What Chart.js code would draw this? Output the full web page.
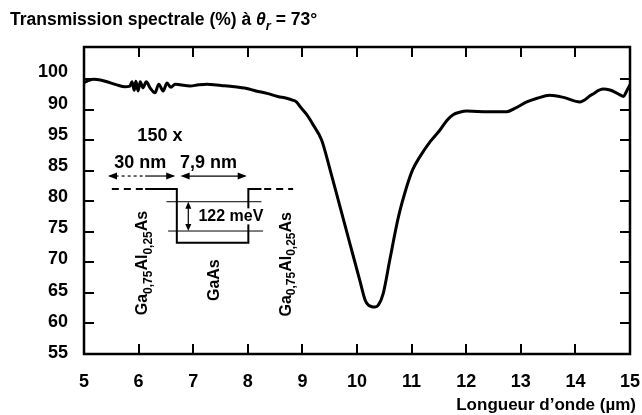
<!DOCTYPE html>
<html>
<head>
<meta charset="utf-8">
<script src="https://cdn.jsdelivr.net/npm/chart.js@4.4.1/dist/chart.umd.min.js"></script>
<style>
  html, body { margin: 0; padding: 0; background: #fff; }
  canvas { display: block; }
</style>
</head>
<body>
<canvas id="chart" width="642" height="415"></canvas>
<script>
// Spectral transmission of the multi-quantum-well sample, wavelength in µm
const wavelength = [
  5.00, 5.08, 5.17, 5.30, 5.42, 5.60, 5.75, 5.84,
  5.88, 5.92, 5.95, 5.99, 6.03, 6.08, 6.14, 6.21, 6.30, 6.37, 6.45, 6.52, 6.59, 6.67,
  6.76, 6.94, 7.10, 7.25, 7.51, 7.75, 7.98, 8.15, 8.35, 8.55, 8.71, 8.82, 8.89,
  8.96, 9.08, 9.20, 9.35, 9.51, 9.69, 9.87, 10.05, 10.15, 10.21, 10.27, 10.33, 10.39,
  10.48, 10.60, 10.76, 10.91, 11.02, 11.15, 11.34, 11.52, 11.65, 11.76, 11.88, 12.01,
  12.40, 12.74, 12.90, 13.11, 13.30, 13.53, 13.80, 14.08, 14.30, 14.51, 14.63, 14.75,
  14.88, 14.95, 15.00
];
const transmission = [
  99.5, 99.8, 100.0, 99.9, 99.6, 99.1, 98.8, 98.9,
  99.6, 98.2, 99.7, 98.1, 99.6, 98.6, 99.6, 98.6, 97.8, 99.2, 98.1, 99.4, 98.7, 99.2,
  99.1, 98.9, 99.1, 99.2, 99.0, 98.8, 98.5, 98.1, 97.7, 97.2, 96.9, 96.6, 96.3,
  95.5, 94.2, 92.5, 90.1, 85.1, 79.1, 73.1, 67.1, 63.8, 63.0, 62.75, 62.7, 63.0,
  64.9, 70.4, 77.5, 82.4, 85.2, 87.3, 89.8, 91.7, 93.3, 94.2, 94.6, 94.8,
  94.7, 94.7, 95.3, 96.3, 96.9, 97.4, 97.0, 96.3, 97.5, 98.4, 98.25, 97.8,
  97.2, 98.3, 99.1
];

// Axis ticks and the labels printed next to them
const xTickValues = [5, 6, 7, 8, 9, 10, 11, 12, 13, 14, 15];
const yTickValues = [55, 60, 65, 70, 75, 80, 85, 90, 95, 100];
const yTickLabels = ['55', '60', '65', '70', '75', '80', '85', '95', '90', '100'];

const FONT = "'Liberation Sans', Arial, Helvetica, sans-serif";

// Draws a run of text pieces (normal / italic / subscript) starting at x
function richText(ctx, pieces, x, y, size, weight) {
  let cx = x;
  for (const p of pieces) {
    const s = p.sub ? Math.round(size * 0.72) : size;
    ctx.font = `${p.italic ? 'italic ' : ''}${weight} ${s}px ${FONT}`;
    ctx.fillText(p.t, cx, y + (p.sub ? size * 0.28 : 0));
    cx += ctx.measureText(p.t).width;
  }
  return cx - x;
}
function richWidth(ctx, pieces, size, weight) {
  let w = 0;
  for (const p of pieces) {
    const s = p.sub ? Math.round(size * 0.72) : size;
    ctx.font = `${p.italic ? 'italic ' : ''}${weight} ${s}px ${FONT}`;
    w += ctx.measureText(p.t).width;
  }
  return w;
}

function arrowHead(ctx, x, y, dir, len, half) {
  ctx.beginPath();
  if (dir === 'l') { ctx.moveTo(x, y); ctx.lineTo(x + len, y - half); ctx.lineTo(x + len, y + half); }
  if (dir === 'r') { ctx.moveTo(x, y); ctx.lineTo(x - len, y - half); ctx.lineTo(x - len, y + half); }
  if (dir === 'u') { ctx.moveTo(x, y); ctx.lineTo(x - half, y + len); ctx.lineTo(x + half, y + len); }
  if (dir === 'd') { ctx.moveTo(x, y); ctx.lineTo(x - half, y - len); ctx.lineTo(x + half, y - len); }
  ctx.closePath();
  ctx.fill();
}

// Frame with inward ticks on all four sides, y labels and the titles
const framePlugin = {
  id: 'frame',
  afterDraw(chart) {
    const { ctx, chartArea: a, scales: { x, y } } = chart;
    ctx.save();
    ctx.strokeStyle = '#000';
    ctx.fillStyle = '#000';
    ctx.lineWidth = 2;
    const len = 10;
    ctx.beginPath();
    for (const v of xTickValues) {
      const px = Math.round(x.getPixelForValue(v));
      if (px <= a.left + 1 || px >= a.right - 1) continue;
      ctx.moveTo(px, a.bottom); ctx.lineTo(px, a.bottom - len);
      ctx.moveTo(px, a.top); ctx.lineTo(px, a.top + len);
    }
    for (const v of yTickValues) {
      const py = Math.round(y.getPixelForValue(v));
      if (py >= a.bottom - 1) continue;
      ctx.moveTo(a.left, py); ctx.lineTo(a.left + len, py);
      ctx.moveTo(a.right, py); ctx.lineTo(a.right - len, py);
    }
    ctx.stroke();
    ctx.lineWidth = 2.5;
    ctx.strokeRect(a.left, a.top, a.right - a.left, a.bottom - a.top);

    // y tick labels, set slightly above their ticks (more so towards the top)
    ctx.font = `bold 18px ${FONT}`;
    ctx.textAlign = 'right';
    ctx.textBaseline = 'middle';
    yTickValues.forEach((v, i) => {
      const lift = 1 + 6 * (v - 55) / 45;
      ctx.fillText(yTickLabels[i], a.left - 16, y.getPixelForValue(v) - lift);
    });

    // chart title
    ctx.textBaseline = 'alphabetic';
    ctx.textAlign = 'left';
    richText(ctx, [
      { t: 'Transmission spectrale (%) à ' },
      { t: 'θ', italic: true },
      { t: 'r', italic: true, sub: true },
      { t: ' = 73°' }
    ], 10, 25, 17.5, 'bold');

    // x axis title, right aligned
    ctx.font = `bold 17px ${FONT}`;
    ctx.textAlign = 'right';
    ctx.fillText('Longueur d’onde (µm)', 636, 410);
    ctx.restore();
  }
};

// Quantum-well sketch placed in data coordinates
const wellPlugin = {
  id: 'well',
  afterDatasetsDraw(chart) {
    const { ctx, scales: { x, y } } = chart;
    const X = v => x.getPixelForValue(v);
    const Y = v => y.getPixelForValue(v);
    ctx.save();
    ctx.strokeStyle = '#000';
    ctx.fillStyle = '#000';
    ctx.textAlign = 'center';
    ctx.textBaseline = 'middle';

    ctx.font = `bold 18px ${FONT}`;
    ctx.fillText('150 x', X(6.39), Y(90.7));
    ctx.fillText('30 nm', X(6.03), Y(86.3));
    ctx.fillText('7,9 nm', X(7.28), Y(86.3));

    // thickness arrows
    const ay = Y(84.16);
    ctx.lineWidth = 1.2;
    ctx.setLineDash([3, 3]);
    ctx.beginPath(); ctx.moveTo(X(5.47), ay); ctx.lineTo(X(6.12), ay); ctx.stroke();
    ctx.setLineDash([]);
    ctx.beginPath(); ctx.moveTo(X(6.12), ay); ctx.lineTo(X(6.64), ay); ctx.stroke();
    arrowHead(ctx, X(5.44), ay, 'l', 9, 3.5);
    arrowHead(ctx, X(6.67), ay, 'r', 9, 3.5);
    ctx.beginPath(); ctx.moveTo(X(6.8), ay); ctx.lineTo(X(7.95), ay); ctx.stroke();
    arrowHead(ctx, X(6.77), ay, 'l', 9, 3.5);
    arrowHead(ctx, X(7.98), ay, 'r', 9, 3.5);

    // conduction band profile
    const top = Y(82.03), bot = Y(73.23);
    ctx.lineWidth = 2;
    ctx.setLineDash([7, 5]);
    ctx.beginPath(); ctx.moveTo(X(5.51), top); ctx.lineTo(X(6.12), top); ctx.stroke();
    ctx.beginPath(); ctx.moveTo(X(8.30), top); ctx.lineTo(X(8.83), top); ctx.stroke();
    ctx.setLineDash([]);
    ctx.beginPath();
    ctx.moveTo(X(6.12), top); ctx.lineTo(X(6.70), top);
    ctx.lineTo(X(6.70), bot); ctx.lineTo(X(8.01), bot);
    ctx.lineTo(X(8.01), top); ctx.lineTo(X(8.25), top);
    ctx.stroke();

    // confined levels
    ctx.lineWidth = 1;
    ctx.beginPath();
    ctx.moveTo(X(6.51), Y(79.95)); ctx.lineTo(X(8.25), Y(79.95));
    ctx.moveTo(X(6.54), Y(75.15)); ctx.lineTo(X(8.28), Y(75.15));
    ctx.stroke();
    const vx = X(6.91);
    ctx.lineWidth = 1.2;
    ctx.beginPath(); ctx.moveTo(vx, Y(79.95) + 6); ctx.lineTo(vx, Y(75.15) - 6); ctx.stroke();
    arrowHead(ctx, vx, Y(79.95), 'u', 7, 3);
    arrowHead(ctx, vx, Y(75.15), 'd', 7, 3);

    // transition energy label on a white box
    ctx.font = `bold 16px ${FONT}`;
    const tw = ctx.measureText('122 meV').width;
    const tx = X(7.69), ty = Y(77.55);
    ctx.fillStyle = '#fff';
    ctx.fillRect(tx - tw / 2 - 1, ty - 8, tw + 2, 16);
    ctx.fillStyle = '#000';
    ctx.fillText('122 meV', tx, ty);

    // layer names, written vertically
    const barrier = [{ t: 'Ga' }, { t: '0,75', sub: true }, { t: 'Al' }, { t: '0,25', sub: true }, { t: 'As' }];
    const vertical = (pieces, cxv, cyv) => {
      const w = richWidth(ctx, pieces, 16, 'bold');
      ctx.save();
      ctx.translate(X(cxv), Y(cyv));
      ctx.rotate(-Math.PI / 2);
      ctx.textAlign = 'left';
      ctx.textBaseline = 'alphabetic';
      richText(ctx, pieces, -w / 2, 6, 16, 'bold');
      ctx.restore();
    };
    vertical(barrier, 6.05, 69.9);
    vertical([{ t: 'GaAs' }], 7.37, 67.1);
    vertical(barrier, 8.68, 69.7);
    ctx.restore();
  }
};

new Chart(document.getElementById('chart'), {
  type: 'line',
  data: {
    datasets: [{
      data: wavelength.map((w, i) => ({ x: w, y: transmission[i] })),
      borderColor: '#000',
      borderWidth: 3,
      pointRadius: 0,
      fill: false,
      cubicInterpolationMode: 'monotone'
    }]
  },
  options: {
    responsive: false,
    animation: false,
    events: [],
    layout: { padding: { left: 0, right: 12, top: 47, bottom: 0 } },
    plugins: { legend: { display: false }, tooltip: { enabled: false }, title: { display: false } },
    scales: {
      x: {
        type: 'linear',
        min: 5, max: 15,
        afterBuildTicks: s => { s.ticks = xTickValues.map(v => ({ value: v })); },
        afterFit: s => { s.height = 61; s.paddingLeft = 0; s.paddingRight = 0; },
        grid: { display: false, drawTicks: false },
        border: { display: false },
        ticks: {
          color: '#000', padding: 17, maxRotation: 0, autoSkip: false,
          font: { family: FONT, size: 18, weight: 'bold' }
        }
      },
      y: {
        type: 'linear',
        min: 55, max: 105.3,
        afterBuildTicks: s => { s.ticks = yTickValues.map(v => ({ value: v })); },
        afterFit: s => { s.width = 84; s.paddingTop = 0; s.paddingBottom = 0; },
        grid: { display: false, drawTicks: false },
        border: { display: false },
        ticks: { display: false }
      }
    }
  },
  plugins: [wellPlugin, framePlugin]
});
</script>
</body>
</html>
